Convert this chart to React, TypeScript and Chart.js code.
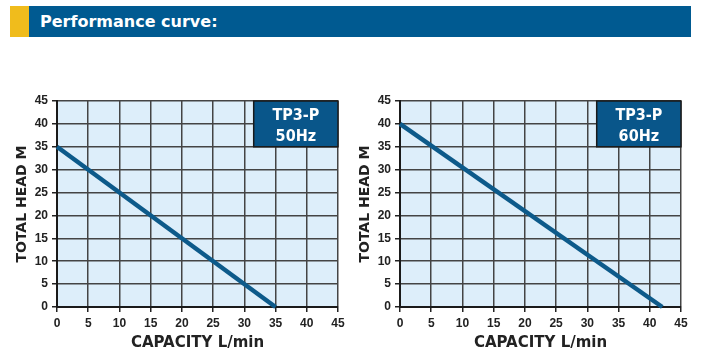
import React, { useEffect, useRef } from "react";
import { Chart, registerables } from "chart.js";

Chart.register(...registerables);

const capacityTicks = [0, 5, 10, 15, 20, 25, 30, 35, 40, 45];
const headTicks = [0, 5, 10, 15, 20, 25, 30, 35, 40, 45];

const curve50Capacity = [0, 35];
const curve50Head = [35, 0];
const curve60Capacity = [0, 42];
const curve60Head = [40, 0];

const label50 = ["TP3-P", "50Hz"];
const label60 = ["TP3-P", "60Hz"];
// label box extent in data units [xMin, xMax, yMin, yMax]
const labelBox = [31.5, 45, 35, 45];

const xTitle = "CAPACITY L/min";
const yTitle = "TOTAL HEAD M";
const bannerTitle = "Performance curve:";

const LINE_COLOR = "#0d5a8a";
const BOX_COLOR = "#09568a";
const PLOT_BG = "#ddeefa";

function makeBgPlugin() {
  return {
    id: "plotBg",
    beforeDraw(chart: any) {
      const { ctx, chartArea } = chart;
      ctx.save();
      ctx.fillStyle = PLOT_BG;
      ctx.fillRect(chartArea.left, chartArea.top, chartArea.right - chartArea.left, chartArea.bottom - chartArea.top);
      ctx.restore();
    },
  };
}

function makeBoxPlugin(lines: string[]) {
  return {
    id: "labelBox",
    afterDatasetsDraw(chart: any) {
      const { ctx, scales } = chart;
      const x1 = scales.x.getPixelForValue(labelBox[0]);
      const x2 = scales.x.getPixelForValue(labelBox[1]);
      const y1 = scales.y.getPixelForValue(labelBox[3]);
      const y2 = scales.y.getPixelForValue(labelBox[2]);
      ctx.save();
      ctx.fillStyle = BOX_COLOR;
      ctx.fillRect(x1, y1, x2 - x1, y2 - y1);
      ctx.strokeStyle = "#1a1a1a";
      ctx.lineWidth = 1.5;
      ctx.strokeRect(x1, y1, x2 - x1, y2 - y1);
      ctx.fillStyle = "#ffffff";
      ctx.font = "bold 16px 'DejaVu Sans Condensed', 'DejaVu Sans', sans-serif";
      ctx.textAlign = "center";
      ctx.textBaseline = "middle";
      const cx = (x1 + x2) / 2;
      ctx.fillText(lines[0], cx, y1 + 15);
      ctx.fillText(lines[1], cx, y1 + 36);
      ctx.restore();
    },
  };
}

function PumpChart(props: { xs: number[]; ys: number[]; label: string[]; padRight: number }) {
  const ref = useRef<HTMLCanvasElement | null>(null);
  useEffect(() => {
    if (!ref.current) return;
    const data = props.xs.map((x, i) => ({ x, y: props.ys[i] }));
    const chart = new Chart(ref.current, {
      type: "scatter",
      data: {
        datasets: [
          {
            data,
            showLine: true,
            borderColor: LINE_COLOR,
            borderWidth: 4.5,
            pointRadius: 0,
            clip: false as any,
          },
        ],
      },
      options: {
        animation: false,
        responsive: false,
        layout: { padding: { top: 16, right: props.padRight, left: 0, bottom: 0 } },
        plugins: { legend: { display: false }, tooltip: { enabled: false } },
        scales: {
          x: {
            type: "linear",
            min: 0,
            max: 45,
            afterBuildTicks: (s: any) => {
              s.ticks = capacityTicks.map((v) => ({ value: v }));
            },
            afterFit: (s: any) => {
              s.height = 56;
            },
            ticks: {
              color: "#222",
              font: { family: "'Liberation Sans', Arial, sans-serif", size: 12, weight: "bold" },
              padding: 4,
              maxRotation: 0,
            },
            grid: { color: "#444", lineWidth: 1.5, tickLength: 5, tickColor: "#222" },
            border: { color: "#1a1a1a", width: 2 },
            title: {
              display: true,
              text: xTitle,
              color: "#222",
              font: { family: "'DejaVu Sans', sans-serif", size: 15, weight: "bold" },
              padding: { top: 0, bottom: 11 },
            },
          },
          y: {
            type: "linear",
            min: 0,
            max: 45,
            afterBuildTicks: (s: any) => {
              s.ticks = headTicks.map((v) => ({ value: v }));
            },
            afterFit: (s: any) => {
              s.width = 57;
            },
            ticks: {
              color: "#222",
              font: { family: "'Liberation Sans', Arial, sans-serif", size: 12, weight: "bold" },
              padding: 4,
            },
            grid: { color: "#444", lineWidth: 1.5, tickLength: 5, tickColor: "#222" },
            border: { color: "#1a1a1a", width: 2 },
            title: {
              display: true,
              text: yTitle,
              color: "#222",
              font: { family: "'DejaVu Sans', sans-serif", size: 14, weight: "bold" },
              padding: { top: 14, bottom: 0 },
            },
          },
        },
      },
      plugins: [makeBgPlugin(), makeBoxPlugin(props.label)],
    } as any);
    return () => chart.destroy();
  }, []);
  return <canvas ref={ref} width={350 + (props.padRight - 12)} height={278} />;
}

export default function App() {
  return (
    <div style={{ position: "fixed", left: 0, top: 0, width: 703, height: 363, background: "#fff", overflow: "hidden" }}>
      <div style={{ position: "absolute", left: 10, top: 6, width: 19, height: 31, background: "#f0bc1c" }} />
      <div
        style={{
          position: "absolute",
          left: 29,
          top: 6,
          width: 662,
          height: 31,
          background: "#005a91",
          color: "#fff",
          fontFamily: "'DejaVu Sans', sans-serif",
          fontWeight: "bold",
          fontSize: 16,
          lineHeight: "31px",
          paddingLeft: 11,
          boxSizing: "border-box",
        }}
      >
        {bannerTitle}
      </div>
      <div style={{ position: "absolute", left: 0, top: 85 }}>
        <PumpChart xs={curve50Capacity} ys={curve50Head} label={label50} padRight={12} />
      </div>
      <div style={{ position: "absolute", left: 343, top: 85 }}>
        <PumpChart xs={curve60Capacity} ys={curve60Head} label={label60} padRight={21} />
      </div>
    </div>
  );
}
